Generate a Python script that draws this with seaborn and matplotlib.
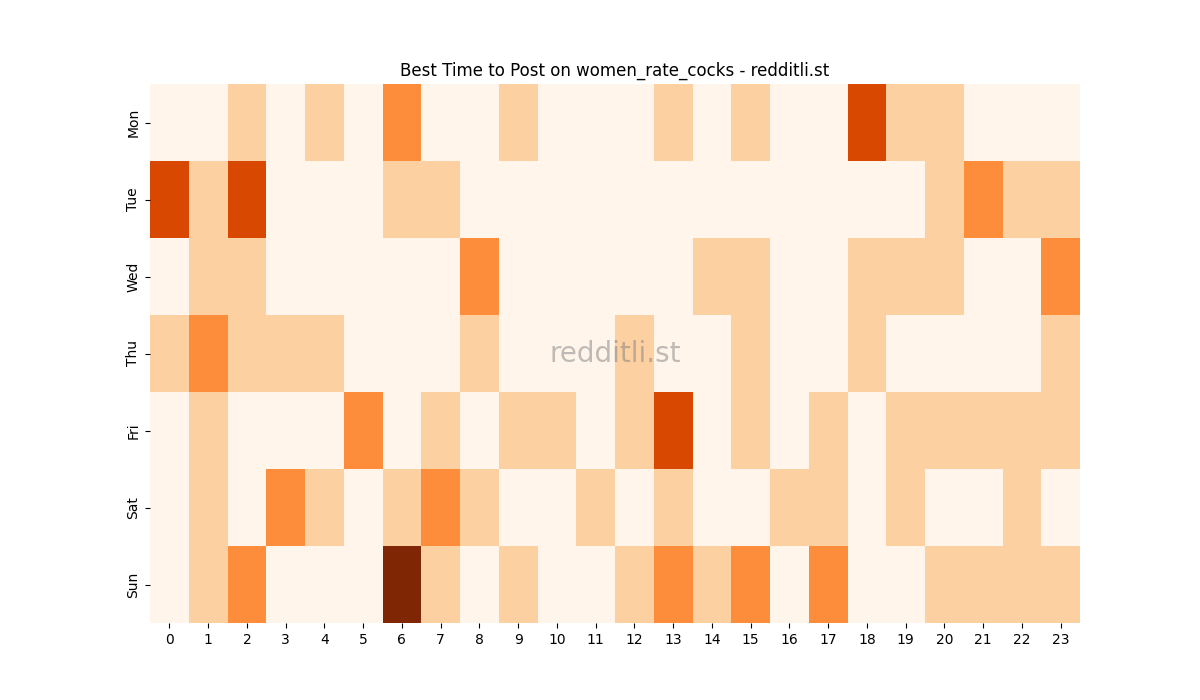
import numpy as np
import pandas as pd
import matplotlib
matplotlib.use('Agg')
import matplotlib.pyplot as plt
import seaborn as sns

days = ['Mon', 'Tue', 'Wed', 'Thu', 'Fri', 'Sat', 'Sun']
hours = list(range(24))

# posting score per hour (0-4)
mon = [0, 0, 1, 0, 1, 0, 2, 0, 0, 1, 0, 0, 0, 1, 0, 1, 0, 0, 3, 1, 1, 0, 0, 0]
tue = [3, 1, 3, 0, 0, 0, 1, 1, 0, 0, 0, 0, 0, 0, 0, 0, 0, 0, 0, 0, 1, 2, 1, 1]
wed = [0, 1, 1, 0, 0, 0, 0, 0, 2, 0, 0, 0, 0, 0, 1, 1, 0, 0, 1, 1, 1, 0, 0, 2]
thu = [1, 2, 1, 1, 1, 0, 0, 0, 1, 0, 0, 0, 1, 0, 0, 1, 0, 0, 1, 0, 0, 0, 0, 1]
fri = [0, 1, 0, 0, 0, 2, 0, 1, 0, 1, 1, 0, 1, 3, 0, 1, 0, 1, 0, 1, 1, 1, 1, 1]
sat = [0, 1, 0, 2, 1, 0, 1, 2, 1, 0, 0, 1, 0, 1, 0, 0, 1, 1, 0, 1, 0, 0, 1, 0]
sun = [0, 1, 2, 0, 0, 0, 4, 1, 0, 1, 0, 0, 1, 2, 1, 2, 0, 2, 0, 0, 1, 1, 1, 1]

data = pd.DataFrame([mon, tue, wed, thu, fri, sat, sun], index=days, columns=hours)

fig, ax = plt.subplots(figsize=(12, 7), dpi=100)
sns.heatmap(data, cmap='Oranges', cbar=False, vmin=0, vmax=4, ax=ax)
ax.set_title('Best Time to Post on women_rate_cocks - redditli.st')
ax.text(0.5, 0.5, 'redditli.st', transform=ax.transAxes, ha='center', va='center',
        fontsize=20, color='gray', alpha=0.5)
plt.savefig('out.png')
